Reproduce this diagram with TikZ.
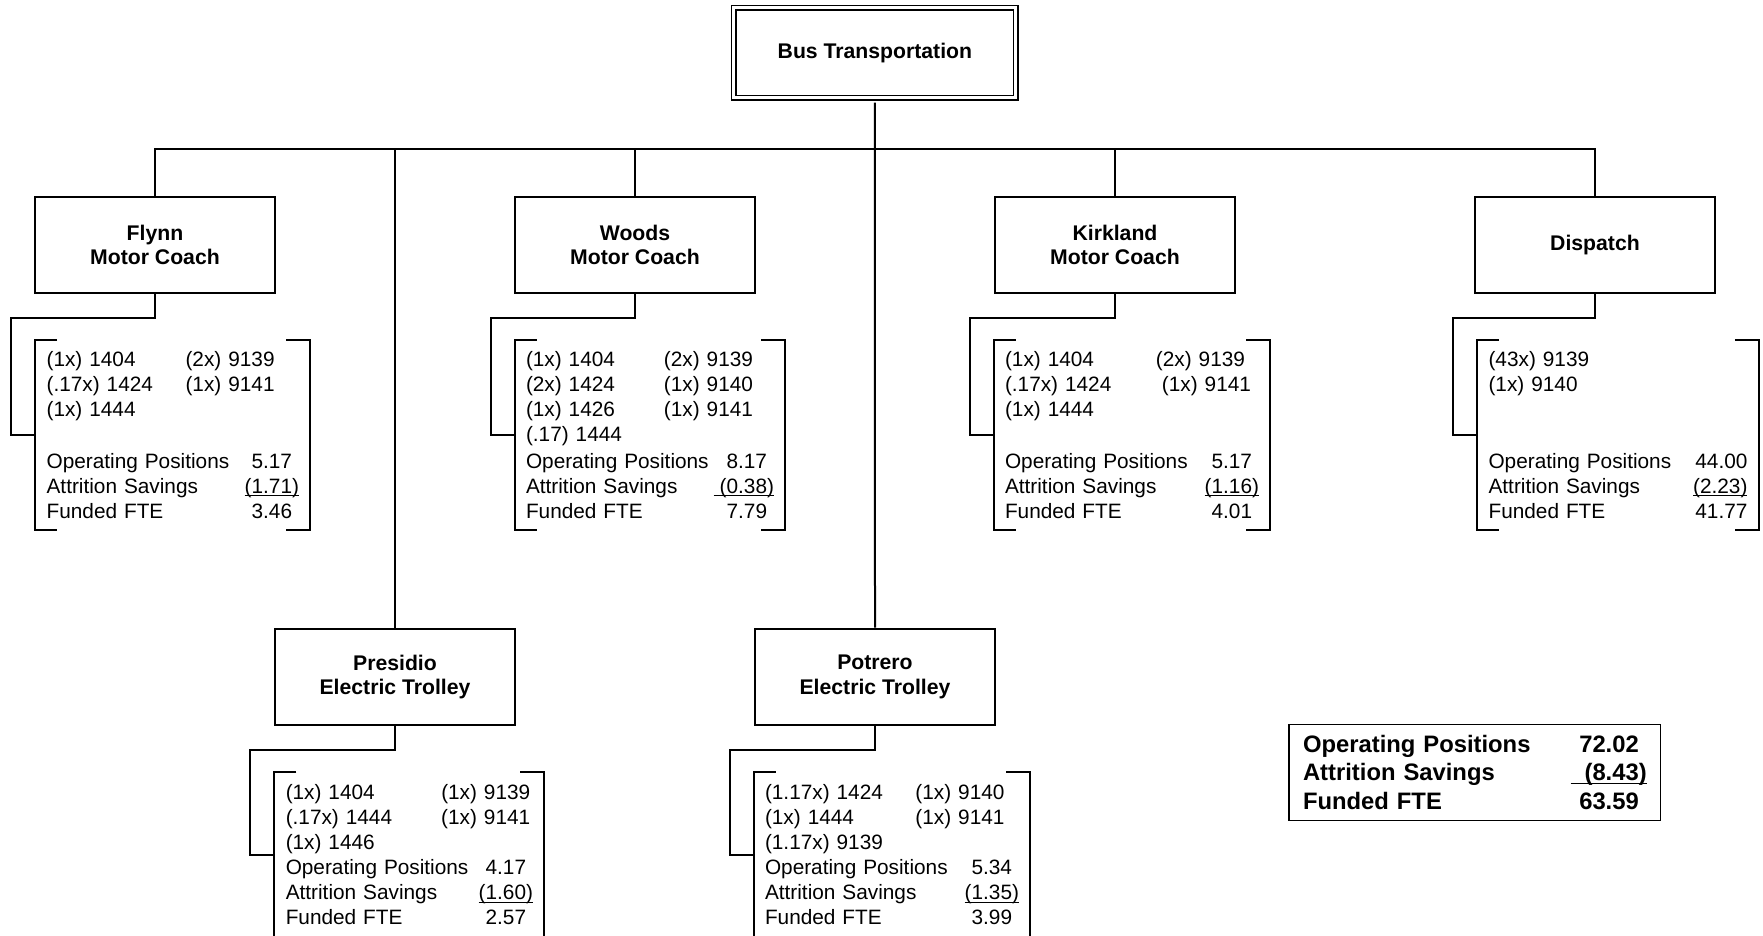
\documentclass[tikz,border=0pt]{standalone}
\usepackage{fontspec}
\setmainfont{Liberation Sans}
\usepackage{tikz}
\usetikzlibrary{calc}

\newcommand{\codepair}[3]{\makebox[#1][l]{#2}#3}
\newcommand{\fteline}[2]{#1\hfill#2}
\newcommand{\negline}[1]{\setbox0\hbox{#1}\leavevmode\rlap{\rule[-1.4pt]{\wd0}{0.5pt}}\box0}

\tikzset{
  unit/.style={draw, line width=1pt, minimum width=120pt, minimum height=48.3pt,
    inner sep=0pt, align=center, font=\fontsize{10.6}{12.2}\selectfont\bfseries},
  list/.style={inner xsep=5.5pt, inner ysep=0pt, align=left,
    font=\fontsize{10.4}{12.5}\selectfont},
  summary/.style={draw, line width=0.6pt, inner xsep=7pt, inner ysep=0pt, align=left,
    font=\fontsize{11.9}{14.25}\selectfont\bfseries},
  link/.style={line width=1pt},
}

\begin{document}
\begin{tikzpicture}[x=0.5pt,y=-0.5pt]
    \useasboundingbox (0,0) rectangle (1763,936);
    \clip (0,0) rectangle (1763,936);

    \node[unit, double, double distance=1.5pt, line width=0.85pt, minimum width=141pt,
      minimum height=45pt] (bus) at (874.9,52.9) {Bus Transportation};
    \node[unit] (flynn) at (155,245) {Flynn\\Motor Coach};
    \node[unit] (woods) at (635,245) {Woods\\Motor Coach};
    \node[unit] (kirkland) at (1115,245) {Kirkland\\Motor Coach};
    \node[unit] (dispatch) at (1595,245) {Dispatch};
    \node[unit] (presidio) at (395,677) {Presidio\\Electric Trolley};
    \node[unit] (potrero) at (875,677) {Potrero\\Electric Trolley};

    \coordinate (bar) at (875,149);
    \draw[link] (flynn.north) |- (bar) -| (dispatch.north);
    \foreach \n in {presidio,woods,kirkland}
      \draw[link] (\n.north) -- (\n.north |- bar);
    \draw[link] ([yshift=-2pt]bus.south) -- (potrero.north);

    \node[list, text width=126.2pt, minimum height=94.65pt] (flynn-list) at (172.8,435.4) {%
      \codepair{69.5pt}{(1x) 1404}{(2x) 9139}\\
      \codepair{69.5pt}{(.17x) 1424}{(1x) 9141}\\
      (1x) 1444\\[13.35pt]
      \fteline{Operating Positions}{5.17\hphantom{)}}\\
      \fteline{Attrition Savings}{\negline{(1.71)}}\\
      \fteline{Funded FTE}{3.46\hphantom{)}}};
    \node[list, text width=124pt, minimum height=94.65pt] (woods-list) at (650,435.4) {%
      \codepair{69pt}{(1x) 1404}{(2x) 9139}\\
      \codepair{69pt}{(2x) 1424}{(1x) 9140}\\
      \codepair{69pt}{(1x) 1426}{(1x) 9141}\\
      (.17) 1444\\[0.85pt]
      \fteline{Operating Positions}{8.17\hphantom{)}}\\
      \fteline{Attrition Savings}{\negline{\hspace{3pt}(0.38)}}\\
      \fteline{Funded FTE}{7.79\hphantom{)}}};
    \node[list, text width=127pt, minimum height=94.65pt] (kirkland-list) at (1132,435.4) {%
      \codepair{75.5pt}{(1x) 1404}{(2x) 9139}\\
      \codepair{75.5pt}{(.17x) 1424}{\hspace{3pt}(1x) 9141}\\
      (1x) 1444\\[13.35pt]
      \fteline{Operating Positions}{5.17\hphantom{)}}\\
      \fteline{Attrition Savings}{\negline{(1.16)}}\\
      \fteline{Funded FTE}{4.01\hphantom{)}}};
    \node[list, text width=129.45pt, minimum height=94.65pt] (dispatch-list) at (1618,435.4) {%
      (43x) 9139\\
      (1x) 9140\\[25.85pt]
      \fteline{Operating Positions}{44.00}\\
      \fteline{Attrition Savings}{\negline{(2.23)}}\\
      \fteline{Funded FTE}{41.77}};
    \node[list, text width=123.65pt, minimum height=83pt] (presidio-list) at (409.4,855) {%
      \codepair{77.75pt}{(1x) 1404}{(1x) 9139}\\
      \codepair{77.75pt}{(.17x) 1444}{(1x) 9141}\\
      (1x) 1446\\
      \fteline{Operating Positions}{4.17\hphantom{)}}\\
      \fteline{Attrition Savings}{\negline{(1.60)}}\\
      \fteline{Funded FTE}{2.57\hphantom{)}}};
    \node[list, text width=127pt, minimum height=83pt] (potrero-list) at (892,855) {%
      \codepair{75.25pt}{(1.17x) 1424}{(1x) 9140}\\
      \codepair{75.25pt}{(1x) 1444}{(1x) 9141}\\
      (1.17x) 9139\\
      \fteline{Operating Positions}{5.34\hphantom{)}}\\
      \fteline{Attrition Savings}{\negline{(1.35)}}\\
      \fteline{Funded FTE}{3.99\hphantom{)}}};

    \foreach \n in {flynn,woods,kirkland,dispatch,presidio,potrero} {
      \draw[link] (\n.south) -- ++(0,23.5) -| ([xshift=-12pt]\n-list.west) -- (\n-list.west);
      \draw[link] ([xshift=11pt]\n-list.north west) -| (\n-list.south west) -- ++(11pt,0);
      \draw[link] ([xshift=-12pt]\n-list.north east) -| (\n-list.south east) -- ++(-12pt,0);
    }

    \node[summary, text width=171.85pt, minimum height=48.2pt] (totals) at (1474.9,772.5) {%
      \fteline{Operating Positions}{72.02\hphantom{)}}\\
      \fteline{Attrition Savings}{\negline{\hspace{7pt}(8.43)}}\\
      \fteline{Funded FTE}{63.59\hphantom{)}}};
\end{tikzpicture}
\end{document}
